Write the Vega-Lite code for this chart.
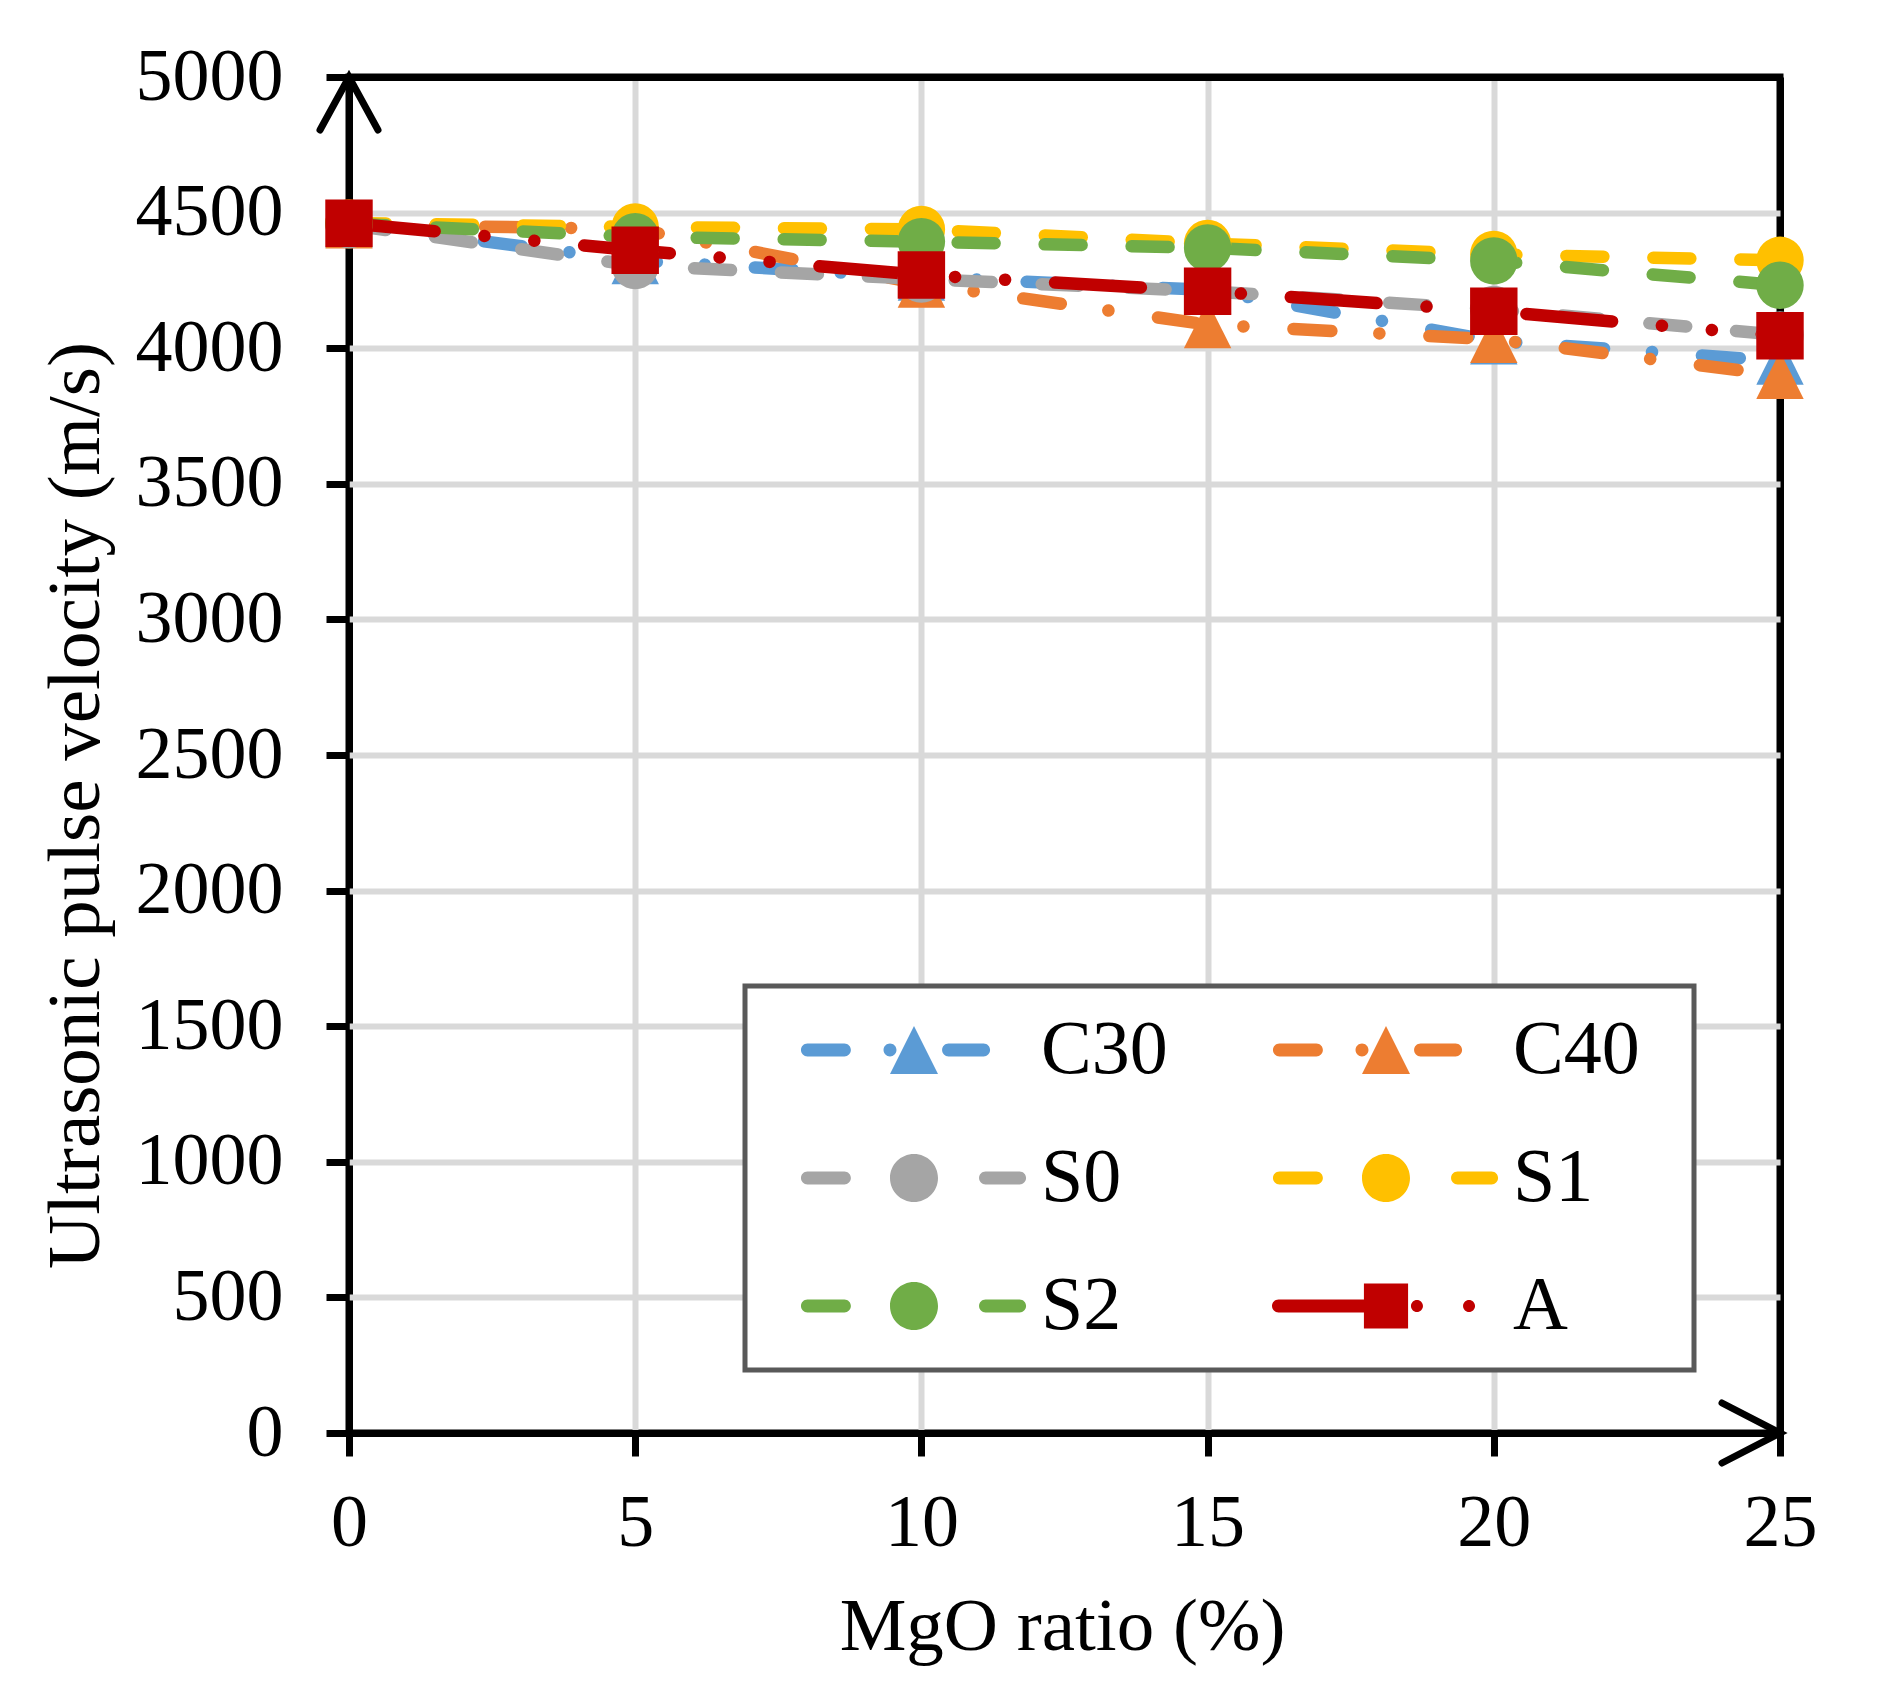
{
  "$schema": "https://vega.github.io/schema/vega-lite/v6.json",
  "description": "Ultrasonic pulse velocity against MgO ratio for six mixes.",
  "width": 1431,
  "height": 1356,
  "autosize": "none",
  "padding": {"left": 349, "top": 77, "right": 104, "bottom": 258},
  "background": "white",
  "config": {
    "view": {"stroke": "black", "strokeWidth": 7},
    "font": "Liberation Serif",
    "axis": {
      "domain": false,
      "grid": true,
      "gridColor": "#d9d9d9",
      "gridWidth": 6,
      "ticks": true,
      "tickColor": "black",
      "tickWidth": 7,
      "tickSize": 23,
      "labelFont": "Liberation Serif",
      "labelFontSize": 74,
      "labelColor": "black",
      "labelFlush": false,
      "labelOverlap": false,
      "titleFont": "Liberation Serif",
      "titleFontSize": 75,
      "titleFontWeight": "normal",
      "titleColor": "black"
    }
  },
  "datasets": {
    "upv": [
      {"series": "C30", "marker": "triangle", "line": "dashdot", "mgo": 0, "v": 4457}, {"series": "C30", "marker": "triangle", "line": "dashdot", "mgo": 5, "v": 4323},
      {"series": "C30", "marker": "triangle", "line": "dashdot", "mgo": 10, "v": 4262}, {"series": "C30", "marker": "triangle", "line": "dashdot", "mgo": 15, "v": 4215},
      {"series": "C30", "marker": "triangle", "line": "dashdot", "mgo": 20, "v": 4027}, {"series": "C30", "marker": "triangle", "line": "dashdot", "mgo": 25, "v": 3953},
      {"series": "C40", "marker": "triangle", "line": "dashdot", "mgo": 0, "v": 4455}, {"series": "C40", "marker": "triangle", "line": "dashdot", "mgo": 5, "v": 4440},
      {"series": "C40", "marker": "triangle", "line": "dashdot", "mgo": 10, "v": 4237}, {"series": "C40", "marker": "triangle", "line": "dashdot", "mgo": 15, "v": 4087},
      {"series": "C40", "marker": "triangle", "line": "dashdot", "mgo": 20, "v": 4033}, {"series": "C40", "marker": "triangle", "line": "dashdot", "mgo": 25, "v": 3900},
      {"series": "S0", "marker": "circle", "line": "dash", "mgo": 0, "v": 4455}, {"series": "S0", "marker": "circle", "line": "dash", "mgo": 5, "v": 4305},
      {"series": "S0", "marker": "circle", "line": "dash", "mgo": 10, "v": 4255}, {"series": "S0", "marker": "circle", "line": "dash", "mgo": 15, "v": 4210},
      {"series": "S0", "marker": "circle", "line": "dash", "mgo": 20, "v": 4143}, {"series": "S0", "marker": "circle", "line": "dash", "mgo": 25, "v": 4049},
      {"series": "S1", "marker": "circle", "line": "dash", "mgo": 0, "v": 4462}, {"series": "S1", "marker": "circle", "line": "dash", "mgo": 5, "v": 4447},
      {"series": "S1", "marker": "circle", "line": "dash", "mgo": 10, "v": 4438}, {"series": "S1", "marker": "circle", "line": "dash", "mgo": 15, "v": 4386},
      {"series": "S1", "marker": "circle", "line": "dash", "mgo": 20, "v": 4346}, {"series": "S1", "marker": "circle", "line": "dash", "mgo": 25, "v": 4324},
      {"series": "S2", "marker": "circle", "line": "dash", "mgo": 0, "v": 4460}, {"series": "S2", "marker": "circle", "line": "dash", "mgo": 5, "v": 4411},
      {"series": "S2", "marker": "circle", "line": "dash", "mgo": 10, "v": 4393}, {"series": "S2", "marker": "circle", "line": "dash", "mgo": 15, "v": 4370},
      {"series": "S2", "marker": "circle", "line": "dash", "mgo": 20, "v": 4322}, {"series": "S2", "marker": "circle", "line": "dash", "mgo": 25, "v": 4232},
      {"series": "A", "marker": "square", "line": "longdashdotdot", "mgo": 0, "v": 4461}, {"series": "A", "marker": "square", "line": "longdashdotdot", "mgo": 5, "v": 4361},
      {"series": "A", "marker": "square", "line": "longdashdotdot", "mgo": 10, "v": 4270}, {"series": "A", "marker": "square", "line": "longdashdotdot", "mgo": 15, "v": 4210},
      {"series": "A", "marker": "square", "line": "longdashdotdot", "mgo": 20, "v": 4136}, {"series": "A", "marker": "square", "line": "longdashdotdot", "mgo": 25, "v": 4046}
    ]
  },
  "layer": [
    {
      "data": {"name": "upv"},
      "mark": {"type": "line", "strokeWidth": 12.5, "strokeCap": "round", "strokeJoin": "round"},
      "encoding": {
        "x": {
          "field": "mgo", "type": "quantitative",
          "scale": {"domain": [0, 25], "nice": false, "zero": false},
          "axis": {
            "values": [0, 5, 10, 15, 20, 25],
            "format": "d",
            "title": "MgO ratio (%)",
            "labelBaseline": "alphabetic",
            "labelPadding": 89,
            "titleBaseline": "alphabetic",
            "titleX": 713,
            "titleY": 216,
            "gridColor": {"condition": {"test": "datum.value == 0 || datum.value == 25", "value": "black"}, "value": "#d9d9d9"},
            "gridWidth": {"condition": {"test": "datum.value == 0 || datum.value == 25", "value": 7}, "value": 6}
          }
        },
        "y": {
          "field": "v", "type": "quantitative",
          "scale": {"domain": [0, 5000], "nice": false},
          "axis": {
            "values": [0, 500, 1000, 1500, 2000, 2500, 3000, 3500, 4000, 4500, 5000],
            "format": "d",
            "title": "Ultrasonic pulse velocity (m/s)",
            "labelPadding": 43,
            "titleAngle": 270,
            "titleAlign": "center",
            "titleBaseline": "alphabetic",
            "titleX": -251,
            "titleY": 728,
            "gridColor": {"condition": {"test": "datum.value == 0 || datum.value == 5000", "value": "black"}, "value": "#d9d9d9"},
            "gridWidth": {"condition": {"test": "datum.value == 0 || datum.value == 5000", "value": 7}, "value": 6}
          }
        },
        "color": {
          "field": "series", "type": "nominal",
          "scale": {
            "domain": ["C30", "C40", "S0", "S1", "S2", "A"],
            "range": ["#5b9bd5", "#ed7d31", "#a5a5a5", "#ffc000", "#70ad47", "#c00000"]
          },
          "legend": {
            "title": null,
            "orient": "none",
            "direction": "horizontal",
            "legendX": 396,
            "legendY": 909,
            "columns": 2,
            "fillColor": "white",
            "strokeColor": "#595959",
            "padding": 26,
            "rowPadding": 52,
            "columnPadding": 47,
            "labelFont": "Liberation Serif",
            "labelFontSize": 76,
            "labelColor": "black",
            "labelLimit": 400,
            "symbolSize": 2304,
            "symbolStrokeWidth": 0,
            "symbolOffset": 105,
            "labelOffset": 89,
            "encode": {
              "legend": {"update": {"strokeWidth": {"value": 5}}},
              "symbols": {
                "update": {
                  "shape": {"signal": "'M 11.75 0 Z ' + (datum.value === 'A' ? 'M -4.48 -0.27 L -0.92 -0.27 L -0.92 0.27 L -4.48 0.27 A 0.27 0.27 0 0 1 -4.48 -0.27 Z M -0.92 -0.94 L 0.92 -0.94 L 0.92 0.94 L -0.92 0.94 Z M 1.04 0 A 0.25 0.25 0 1 1 1.54 0 A 0.25 0.25 0 1 1 1.04 0 Z M 3.21 0 A 0.25 0.25 0 1 1 3.71 0 A 0.25 0.25 0 1 1 3.21 0 Z' : (datum.value === 'C30' || datum.value === 'C40') ? 'M -4.44 -0.27 L -2.9 -0.27 A 0.27 0.27 0 0 1 -2.9 0.27 L -4.44 0.27 A 0.27 0.27 0 0 1 -4.44 -0.27 Z M -1.27 0 A 0.27 0.27 0 1 1 -0.73 0 A 0.27 0.27 0 1 1 -1.27 0 Z M 0 -1 L 1 1 L -1 1 Z M 1.44 -0.27 L 2.9 -0.27 A 0.27 0.27 0 0 1 2.9 0.27 L 1.44 0.27 A 0.27 0.27 0 0 1 1.44 -0.27 Z' : 'M -4.44 -0.27 L -2.9 -0.27 A 0.27 0.27 0 0 1 -2.9 0.27 L -4.44 0.27 A 0.27 0.27 0 0 1 -4.44 -0.27 Z M 1 0 A 1 1 0 1 1 -1 0 A 1 1 0 1 1 1 0 Z M 2.98 -0.27 L 4.4 -0.27 A 0.27 0.27 0 0 1 4.4 0.27 L 2.98 0.27 A 0.27 0.27 0 0 1 2.98 -0.27 Z')"},
                  "opacity": {"value": 1}
                }
              }
            }
          }
        },
        "strokeDash": {
          "field": "line", "type": "nominal",
          "scale": {
            "domain": ["dashdot", "dash", "longdashdotdot"],
            "range": [[38, 48, 0.1, 50], [37, 50], [86, 50, 0.1, 50, 0.1, 50]]
          },
          "legend": null
        }
      }
    },
    {
      "data": {"name": "upv"},
      "mark": {"type": "point", "filled": true, "opacity": 1, "strokeWidth": 0, "size": 2250},
      "encoding": {
        "x": {"field": "mgo", "type": "quantitative"},
        "y": {"field": "v", "type": "quantitative"},
        "color": {"field": "series", "type": "nominal"},
        "shape": {
          "field": "marker", "type": "nominal",
          "scale": {
            "domain": ["triangle", "circle", "square"],
            "range": ["M 0 -1 L 1 1 L -1 1 Z", "circle", "square"]
          },
          "legend": null
        }
      }
    },
    {
      "data": {"values": [{"mgo": 0, "v": 5000}]},
      "mark": {"type": "point", "shape": "M -29 53 L 0 0 L 29 53", "size": 4, "filled": false, "stroke": "black", "strokeWidth": 7, "strokeCap": "round", "opacity": 1},
      "encoding": {
        "x": {"field": "mgo", "type": "quantitative"},
        "y": {"field": "v", "type": "quantitative"}
      }
    },
    {
      "data": {"values": [{"mgo": 25, "v": 0}]},
      "mark": {"type": "point", "shape": "M -58 -30 L 0 0 L -58 30", "size": 4, "filled": false, "stroke": "black", "strokeWidth": 7, "strokeCap": "round", "opacity": 1},
      "encoding": {
        "x": {"field": "mgo", "type": "quantitative"},
        "y": {"field": "v", "type": "quantitative"}
      }
    }
  ]
}
